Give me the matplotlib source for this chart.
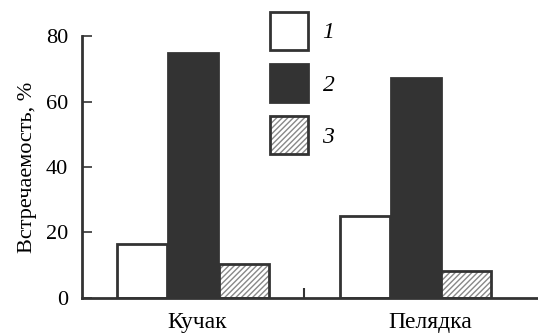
import matplotlib
matplotlib.use("Agg")
import matplotlib.pyplot as plt
from matplotlib.patches import Patch
from matplotlib.legend_handler import HandlerTuple
import numpy as np

plt.rcParams['font.family'] = ['Liberation Serif', 'DejaVu Serif']

categories = ["Кучак", "Пелядка"]
series_labels = ["1", "2", "3"]
values_1 = [16.5, 25.0]
values_2 = [74.7, 67.3]
values_3 = [10.5, 8.2]
yticks = [0, 20, 40, 60, 80]
ylabel = "Встречаемость, %"

dark = "#333333"
fig = plt.figure(figsize=(5.38, 3.34), dpi=100)
ax = fig.add_axes([0.152, 0.108, 0.848, 0.784])

x = np.arange(len(categories))
w = 0.225
off = 0.228
lw = 2.0
ax.bar(x - off, values_1, w, facecolor="white", edgecolor=dark, linewidth=lw, zorder=2)
ax.bar(x, values_2, w, facecolor=dark, edgecolor=dark, linewidth=lw, zorder=2)
ax.bar(x + off, values_3, w, facecolor="white", edgecolor="#888888", hatch="//////", linewidth=0, zorder=2)
ax.bar(x + off, values_3, w, facecolor="none", edgecolor=dark, linewidth=lw, zorder=3)

ax.set_xlim(-0.5, 1.55)
ax.set_ylim(0, 80)
for s in ["top", "right"]:
    ax.spines[s].set_visible(False)
for s in ["left", "bottom"]:
    ax.spines[s].set_linewidth(2.0)
    ax.spines[s].set_color(dark)
    ax.spines[s].set_zorder(4)

ax.set_yticks(yticks)
ax.set_yticklabels([str(v) for v in yticks])
ax.tick_params(axis="y", direction="in", length=7, width=1.2, color=dark, labelsize=16, pad=10)
# category labels sit slightly right of the group centres in the reference
ax.set_xticks(x + np.array([0.02, 0.065]))
ax.set_xticklabels(categories)
ax.tick_params(axis="x", which="major", length=0, labelsize=17, pad=10)
ax.set_xticks([0.5], minor=True)
ax.tick_params(axis="x", which="minor", direction="in", length=7, width=1.5, color=dark)
ax.set_ylabel(ylabel, fontsize=16, labelpad=6)

h1 = Patch(facecolor="white", edgecolor=dark, linewidth=lw)
h2 = Patch(facecolor=dark, edgecolor=dark, linewidth=lw)
h3a = Patch(facecolor="white", edgecolor="#888888", hatch="//////", linewidth=0)
h3b = Patch(facecolor="none", edgecolor=dark, linewidth=lw)
leg = fig.legend([h1, h2, (h3a, h3b)], series_labels,
                 handler_map={tuple: HandlerTuple(ndivide=1)},
                 loc="upper left", bbox_to_anchor=(0.502, 0.964), frameon=False,
                 handlelength=1.62, handleheight=2.1, labelspacing=0.6,
                 handletextpad=0.6, borderpad=0.0, borderaxespad=0.0,
                 prop={'style': 'italic', 'size': 17})

fig.savefig("out.png", dpi=100)
